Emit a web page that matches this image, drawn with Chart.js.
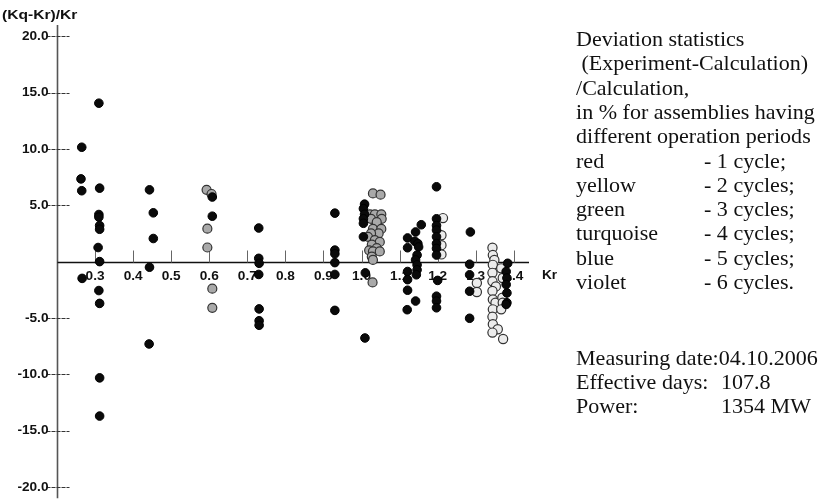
<!DOCTYPE html>
<html><head><meta charset="utf-8">
<script src="https://cdn.jsdelivr.net/npm/chart.js@4/dist/chart.umd.min.js"></script>
<style>
html,body{margin:0;padding:0;background:#fff;}
#wrap{position:relative;width:821px;height:504px;overflow:hidden;background:#fff;}
canvas{position:absolute;left:0;top:0;}
.t{position:absolute;font-family:'Liberation Serif','Times New Roman',serif;font-size:21px;color:#111;white-space:pre;line-height:24px;height:24px;transform-origin:0 50%;transform:scaleX(1.05);}
</style></head>
<body><div id="wrap"><canvas id="c" width="821" height="504"></canvas></div>
<script>
// ---- axis ranges & ticks ----
const xMin = 0.2, xMax = 1.44, yMin = -21, yMax = 21;
const yTickValues = [20, 15, 10, 5, -5, -10, -15, -20];
const yTickLabels = ['20.0', '15.0', '10.0', '5.0', '-5.0', '-10.0', '-15.0', '-20.0'];
const xTickValues = [0.3, 0.4, 0.5, 0.6, 0.7, 0.8, 0.9, 1.0, 1.1, 1.2, 1.3, 1.4];
const xTickLabels = ['0.3', '0.4', '0.5', '0.6', '0.7', '0.8', '0.9', '1.0', '1.1', '1.2', '1.3', '1.4'];
const yTitle = '(Kq-Kr)/Kr';
const xTitle = 'Kr';

// ---- data: black filled markers ----
const blackKr = [
  0.31, 0.265, 0.263, 0.265, 0.312, 0.31, 0.31, 0.312, 0.312, 0.308, 0.312, 0.266, 0.31, 0.312, 0.312, 0.312,
  0.443, 0.453, 0.453, 0.443, 0.442,
  0.608, 0.608,
  0.73, 0.73, 0.731, 0.73, 0.731, 0.731, 0.731,
  0.93, 0.93, 0.93, 0.93, 0.93, 0.93,
  1.008, 1.005, 1.008, 1.005, 1.005, 1.005, 1.01, 1.009,
  1.121, 1.121, 1.121, 1.121, 1.121, 1.12, 1.157, 1.142, 1.14, 1.148, 1.15, 1.146, 1.142, 1.146, 1.146, 1.144, 1.142,
  1.197, 1.197, 1.197, 1.197, 1.197, 1.197, 1.197, 1.197, 1.2, 1.197, 1.197, 1.197,
  1.286, 1.284, 1.284, 1.284, 1.284,
  1.384, 1.38, 1.382, 1.38, 1.382, 1.382, 1.38
];
const blackDev = [
  14.06, 10.15, 7.34, 6.29, 6.52, 4.18, 3.95, 3.2, 2.87, 1.25, 0.0, -1.49, -2.57, -3.71, -10.32, -13.71,
  6.37, 4.33, 2.05, -0.5, -7.31,
  5.73, 4.03,
  2.98, 0.29, -0.15, -1.14, -4.2, -5.25, -5.65,
  4.3, 1.02, 0.7, -0.09, -1.14, -4.33,
  5.1, 4.7, 4.2, 3.8, 3.4, 2.2, -1.0, -6.78,
  2.1, 1.23, -0.88, -1.6, -2.54, -4.27, 3.27, 2.63, 1.8, 1.6, 1.3, 0.58, 0.15, -0.29, -0.73, -1.17, -3.5,
  6.64, 3.8, 3.2, 2.8, 2.2, 1.6, 1.17, 0.58, -1.67, -3.07, -3.5, -4.1,
  2.63, -0.23, -1.17, -2.63, -5.03,
  -0.15, -0.88, -1.46, -2.04, -2.78, -3.65, -3.8
];

// ---- data: grey hatched markers ----
const greyKr = [
  0.593, 0.606, 0.595, 0.595, 0.608, 0.608,
  1.03, 1.05, 1.022, 1.035, 1.052, 1.053, 1.025, 1.04, 1.03, 1.052, 1.045, 1.025, 1.017, 1.035, 1.048, 1.027, 1.04, 1.02, 1.03, 1.048, 1.027, 1.03, 1.029
];
const greyDev = [
  6.37, 6.0, 2.92, 1.25, -2.4, -4.1,
  6.05, 5.94, 4.2, 4.2, 4.2, 3.8, 3.8, 3.5, 2.9, 2.9, 2.5, 2.5, 2.2, 1.9, 1.75, 1.5, 1.2, 1.0, 0.9, 0.9, 0.44, 0.15, -1.85
];

// ---- data: white (open) markers ----
const whiteKr = [
  1.214, 1.21, 1.21, 1.21,
  1.303, 1.303,
  1.344, 1.345, 1.349, 1.345, 1.344, 1.344, 1.353, 1.344, 1.345, 1.352, 1.345, 1.344, 1.345, 1.358, 1.344, 1.372,
  1.367, 1.371, 1.37, 1.371, 1.367
];
const whiteDev = [
  3.86, 2.34, 1.46, 0.64,
  -1.9, -2.7,
  1.23, 0.58, 0.15, -0.29, -1.0, -1.75, -2.2, -2.6, -3.36, -3.65, -4.24, -4.9, -5.55, -6.0, -6.3, -6.87,
  -0.6, -1.46, -3.2, -3.65, -4.24
];

const pts = (xs, ys) => xs.map((x, i) => ({x: x, y: ys[i]}));

function sText(c, txt, x, y, align, sx) {
  c.save(); c.translate(x, y); c.scale(sx, 1); c.textAlign = align; c.fillText(txt, 0, 0); c.restore();
}

const axesPlugin = {
  id: 'customAxes',
  beforeDatasetsDraw(chart) {
    const c = chart.ctx, xs = chart.scales.x, ys = chart.scales.y;
    const x0 = xs.getPixelForValue(xMin) + 0.5;
    const y0 = Math.round(ys.getPixelForValue(0)) + 0.5;
    c.save();
    // y axis
    c.strokeStyle = '#555'; c.lineWidth = 1.6;
    c.beginPath(); c.moveTo(x0, ys.getPixelForValue(yMax)); c.lineTo(x0, ys.getPixelForValue(yMin)); c.stroke();
    // y ticks
    c.strokeStyle = '#333'; c.lineWidth = 1; c.setLineDash([4, 1]);
    yTickValues.forEach(v => {
      const py = Math.round(ys.getPixelForValue(v)) + 0.5;
      c.beginPath(); c.moveTo(x0 - 11, py); c.lineTo(x0 + 12, py); c.stroke();
    });
    c.setLineDash([]);
    // x axis
    c.strokeStyle = '#111'; c.lineWidth = 1.3;
    c.beginPath(); c.moveTo(x0, y0); c.lineTo(xs.getPixelForValue(xMax), y0); c.stroke();
    // x ticks
    c.strokeStyle = '#666'; c.lineWidth = 1;
    xTickValues.forEach(v => {
      const px = Math.round(xs.getPixelForValue(v)) + 0.5;
      c.beginPath(); c.moveTo(px, y0 - 12); c.lineTo(px, y0); c.stroke();
    });
    // labels
    c.fillStyle = '#111';
    c.font = 'bold 13px "Liberation Sans", Arial, sans-serif';
    c.textBaseline = 'middle';
    yTickValues.forEach((v, i) => sText(c, yTickLabels[i], x0 - 9, ys.getPixelForValue(v), 'right', 1.05));
    xTickValues.forEach((v, i) => sText(c, xTickLabels[i], xs.getPixelForValue(v), y0 + 14, 'center', 1.05));
    sText(c, xTitle, xs.getPixelForValue(xMax) + 13, y0 + 13, 'left', 1.05);
    sText(c, yTitle, 2, 15, 'left', 1.2);
    c.restore();
  }
};

new Chart(document.getElementById('c'), {
  type: 'scatter',
  data: {
    datasets: [
      {label: 'black', data: pts(blackKr, blackDev), order: 1, pointRadius: 4.3, pointBackgroundColor: '#0a0a0a', pointBorderColor: '#000', pointBorderWidth: 1},
      {label: 'grey', data: pts(greyKr, greyDev), order: 2, pointRadius: 4.5, pointBackgroundColor: '#a9a9a9', pointBorderColor: '#333', pointBorderWidth: 1.2},
      {label: 'white', data: pts(whiteKr, whiteDev), order: 3, pointRadius: 4.6, pointBackgroundColor: '#ececec', pointBorderColor: '#333', pointBorderWidth: 1.2}
    ]
  },
  options: {
    responsive: false, animation: false, devicePixelRatio: 1,
    layout: {padding: {left: 57, right: 292, top: 25, bottom: 0}},
    plugins: {legend: {display: false}, tooltip: {enabled: false}},
    events: [],
    scales: {
      x: {type: 'linear', min: xMin, max: xMax, display: false},
      y: {type: 'linear', min: yMin, max: yMax, display: false}
    }
  },
  plugins: [axesPlugin]
});

// ---- right-hand notes ----
const noteLines = ['Deviation statistics', ' (Experiment-Calculation)', '/Calculation,', 'in % for assemblies having', 'different operation periods'];
const colourNames = ['red', 'yellow', 'green', 'turquoise', 'blue', 'violet'];
const cycleTexts = ['- 1 cycle;', '- 2 cycles;', '- 3 cycles;', '- 4 cycles;', '- 5 cycles;', '- 6 cycles.'];
const infoLabels = ['Measuring date:04.10.2006', 'Effective days:', 'Power:'];
const infoValues = ['', '107.8', '1354 MW'];
const wrap = document.getElementById('wrap');
function addText(txt, x, yc) {
  const d = document.createElement('div'); d.className = 't'; d.textContent = txt;
  d.style.left = x + 'px'; d.style.top = (yc - 12) + 'px'; wrap.appendChild(d);
}
const rowStart = 39, rowStep = 24.3;
noteLines.forEach((t, i) => addText(t, 576, rowStart + i * rowStep));
colourNames.forEach((t, i) => addText(t, 576, rowStart + (i + 5) * rowStep));
cycleTexts.forEach((t, i) => addText(t, 704, rowStart + (i + 5) * rowStep));
infoLabels.forEach((t, i) => addText(t, 576, 358 + i * 24));
infoValues.forEach((t, i) => { if (t) addText(t, 721, 358 + i * 24); });
</script>
</body></html>
